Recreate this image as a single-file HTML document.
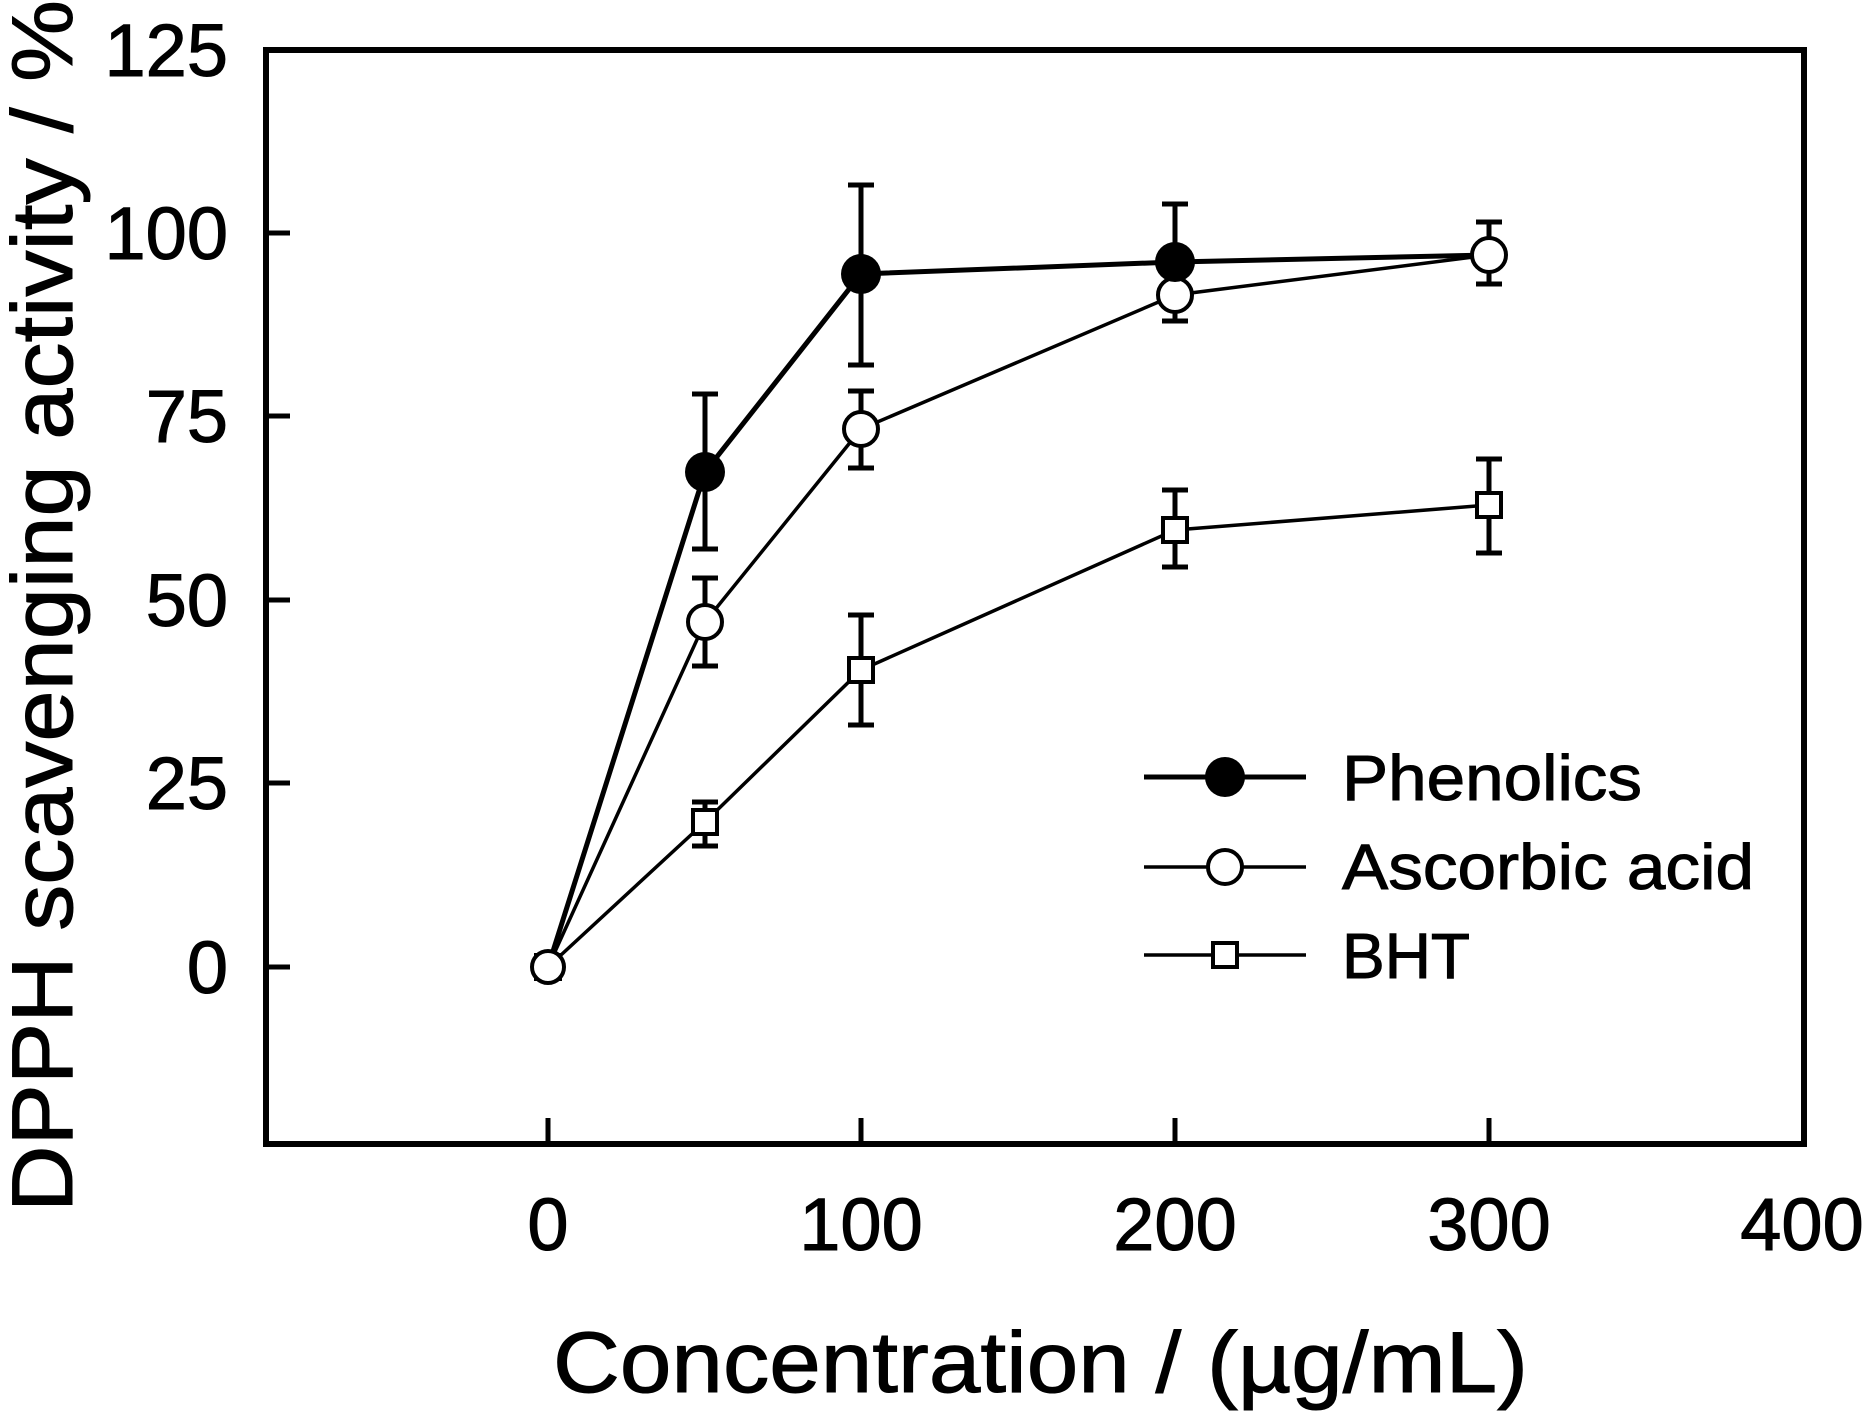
<!DOCTYPE html>
<html><head><meta charset="utf-8"><style>html,body{margin:0;padding:0;background:#fff}svg{display:block}</style></head><body>
<svg width="1865" height="1412" viewBox="0 0 1865 1412" xmlns="http://www.w3.org/2000/svg" font-family="Liberation Sans, Arial, sans-serif">
<rect width="1865" height="1412" fill="#fff"/>
<rect x="266" y="50" width="1538" height="1094" fill="none" stroke="#000" stroke-width="6"/>
<g stroke="#000" stroke-width="5">
<line x1="266" y1="967" x2="290" y2="967"/><line x1="266" y1="783" x2="290" y2="783"/><line x1="266" y1="600" x2="290" y2="600"/><line x1="266" y1="416" x2="290" y2="416"/><line x1="266" y1="233" x2="290" y2="233"/>
<line x1="548" y1="1144" x2="548" y2="1118"/><line x1="861" y1="1144" x2="861" y2="1118"/><line x1="1175" y1="1144" x2="1175" y2="1118"/><line x1="1489" y1="1144" x2="1489" y2="1118"/>
</g>
<g font-size="74" text-anchor="end" fill="#000" stroke="#000" stroke-width="1">
<text x="228" y="993">0</text><text x="228" y="809">25</text><text x="228" y="626">50</text><text x="228" y="442">75</text><text x="228" y="259">100</text><text x="228" y="76">125</text>
</g>
<g font-size="74" text-anchor="middle" fill="#000" stroke="#000" stroke-width="1">
<text x="548" y="1250">0</text><text x="861" y="1250">100</text><text x="1175" y="1250">200</text><text x="1489" y="1250">300</text><text x="1802" y="1250">400</text>
</g>
<text x="553" y="1392" font-size="86" textLength="975" lengthAdjust="spacingAndGlyphs" stroke="#000" stroke-width="1">Concentration / (µg/mL)</text>
<text transform="translate(72,1212) rotate(-90)" font-size="86" textLength="1212" lengthAdjust="spacingAndGlyphs" stroke="#000" stroke-width="1">DPPH scavenging activity / %</text>
<!-- error bars -->
<g stroke="#000" stroke-width="5" fill="none">
<path d="M705 549V394M692 549H718M692 394H718"/>
<path d="M705 666V578M692 666H718M692 578H718"/>
<path d="M861 365V185M848 365H874M848 185H874"/>
<path d="M861 468V391M848 468H874M848 391H874"/>
<path d="M861 725V615M848 725H874M848 615H874"/>
<path d="M1175 321V204M1162 321H1188M1162 204H1188"/>
<path d="M1175 321V270M1162 321H1188M1162 270H1188"/>
<path d="M1175 567V490M1162 567H1188M1162 490H1188"/>
<path d="M1489 284V222M1476 284H1502M1476 222H1502"/>
<path d="M1489 553V459M1476 553H1502M1476 459H1502"/>
<path d="M705 846V802M692 846H718M692 802H718"/>
</g>
<!-- lines -->
<polyline points="548,967 705,822 861,670 1175,530 1489,505" fill="none" stroke="#000" stroke-width="3.5"/>
<polyline points="548,967 705,622 861,429 1175,295 1489,255" fill="none" stroke="#000" stroke-width="3.5"/>
<polyline points="548,967 705,472 861,274 1175,262 1489,255" fill="none" stroke="#000" stroke-width="5"/>
<!-- markers -->
<g stroke="#000" stroke-width="4" fill="#fff">
<rect x="536" y="955" width="24" height="24"/><rect x="693" y="810" width="24" height="24"/><rect x="849" y="658" width="24" height="24"/><rect x="1163" y="518" width="24" height="24"/><rect x="1477" y="493" width="24" height="24"/>
<circle cx="548" cy="967" r="16"/><circle cx="705" cy="622" r="17"/><circle cx="861" cy="429" r="17"/><circle cx="1175" cy="295" r="17"/><circle cx="1489" cy="255" r="17"/>
</g>
<g fill="#000">
<circle cx="705" cy="472" r="20"/><circle cx="861" cy="274" r="20"/><circle cx="1175" cy="262" r="20"/>
</g>
<!-- legend -->
<line x1="1144" y1="777" x2="1306" y2="777" stroke="#000" stroke-width="5"/>
<circle cx="1225" cy="777" r="20" fill="#000"/>
<line x1="1144" y1="867" x2="1306" y2="867" stroke="#000" stroke-width="3.5"/>
<circle cx="1225" cy="867" r="17" fill="#fff" stroke="#000" stroke-width="4"/>
<line x1="1144" y1="955" x2="1306" y2="955" stroke="#000" stroke-width="3.5"/>
<rect x="1213" y="943" width="24" height="24" fill="#fff" stroke="#000" stroke-width="4"/>
<g font-size="64" fill="#000" stroke="#000" stroke-width="1" lengthAdjust="spacingAndGlyphs">
<text x="1342" y="800" textLength="300" lengthAdjust="spacingAndGlyphs">Phenolics</text><text x="1342" y="889" textLength="412" lengthAdjust="spacingAndGlyphs">Ascorbic acid</text><text x="1342" y="978">BHT</text>
</g>
</svg>
</body></html>
